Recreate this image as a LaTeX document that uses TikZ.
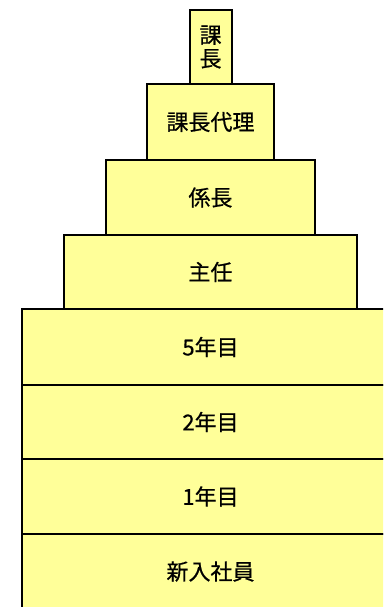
\documentclass[tikz,border=0pt]{standalone}
\usepackage{fontspec}
\newfontfamily\jp[FakeBold=0.6]{Noto Sans CJK JP}
\definecolor{boxyellow}{HTML}{FFFF99}
\begin{document}
\begin{tikzpicture}[x=1pt,y=1pt,
  tier/.style={draw=black, line width=1.8pt, fill=boxyellow, rectangle, inner sep=0pt,
    font=\jp\fontsize{22}{23.5}\selectfont, text=black}]
\useasboundingbox (0,0) rectangle (383,607);
\clip (0,0) rectangle (383,607);
\node[tier, minimum width=377, minimum height=75] (n0) at (210.5,35.5) {新入社員};
\node[tier, minimum width=377, minimum height=75] (n1) at (210.5,110.5) {1年目};
\node[tier, minimum width=377, minimum height=74] (n2) at (210.5,185) {2年目};
\node[tier, minimum width=377, minimum height=76] (n5) at (210.5,260) {5年目};
\node[tier, minimum width=293, minimum height=74] (s) at (210.5,335) {主任};
\node[tier, minimum width=209, minimum height=75] (k) at (210.5,409.5) {係長};
\node[tier, minimum width=127, minimum height=76] (d) at (210.5,485) {課長代理};
\node[tier, minimum width=42, minimum height=74, align=center] (c) at (210.6,560) {課\\長};
\end{tikzpicture}
\end{document}
